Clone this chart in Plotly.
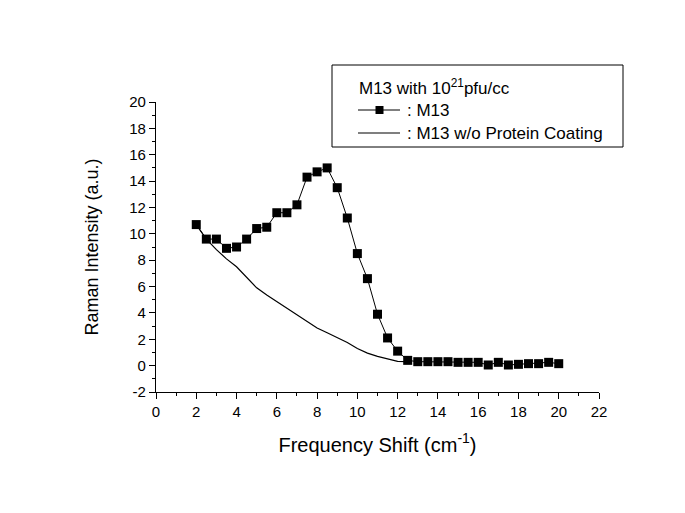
import plotly.graph_objects as go

x_m13 = [2, 2.5, 3, 3.5, 4, 4.5, 5, 5.5, 6, 6.5, 7, 7.5, 8, 8.5, 9, 9.5, 10, 10.5, 11, 11.5,
         12, 12.5, 13, 13.5, 14, 14.5, 15, 15.5, 16, 16.5, 17, 17.5, 18, 18.5, 19, 19.5, 20]
y_m13 = [10.7, 9.6, 9.6, 8.9, 9.0, 9.6, 10.4, 10.5, 11.6, 11.6, 12.2, 14.3, 14.7, 15.0, 13.5, 11.2,
         8.5, 6.6, 3.9, 2.1, 1.1, 0.4, 0.3, 0.3, 0.3, 0.3, 0.25, 0.25, 0.25, 0.05, 0.25, 0.05,
         0.1, 0.15, 0.15, 0.25, 0.15]

x_bare = [2, 2.5, 3, 3.5, 4, 4.5, 5, 5.5, 6, 6.5, 7, 7.5, 8, 8.5, 9, 9.5, 10, 10.5, 11, 11.5, 12, 12.5]
y_bare = [10.7, 9.6, 8.8, 8.1, 7.5, 6.7, 5.9, 5.35, 4.85, 4.35, 3.87, 3.35, 2.85, 2.5, 2.15, 1.75,
          1.3, 0.95, 0.7, 0.5, 0.33, 0.3]

x_ticks = list(range(0, 23, 2))
y_ticks = list(range(-2, 21, 2))
x_ticklabels = [str(v) for v in x_ticks]
y_ticklabels = [str(v) for v in y_ticks]

legend_title = "M13 with 10<sup>21</sup>pfu/cc"
legend_names = [": M13", ": M13 w/o Protein Coating"]

FONT = "Liberation Sans, Arial"
W, H = 685, 513
OFF = 8  # page body margin offset
# target plot-area edges in screenshot pixels
PL, PR, PT, PB = 156, 599, 102, 392
ML, MT = PL - OFF, PT - OFF
MR, MB = W - (PR - OFF), H - (PB - OFF)
PW, PH = PR - PL, PB - PT


def px(xp):
    return (xp - PL) / PW


def py(yp):
    return (PB - yp) / PH


fig = go.Figure()
fig.add_trace(go.Scatter(x=x_m13, y=y_m13, mode="lines+markers", name=legend_names[0],
                         line=dict(color="black", width=1), showlegend=False,
                         marker=dict(symbol="square", size=9, color="black")))
fig.add_trace(go.Scatter(x=x_bare, y=y_bare, mode="lines", name=legend_names[1],
                         line=dict(color="black", width=1.2), showlegend=False))

axis_common = dict(showline=True, linecolor="black", linewidth=1.2, ticks="outside",
                   ticklen=6, tickwidth=1.2, tickcolor="black", showgrid=False, zeroline=False,
                   mirror=False, automargin=False,
                   tickfont=dict(family=FONT, size=15, color="black"))

fig.update_xaxes(range=[0, 22], tickvals=x_ticks, ticktext=x_ticklabels,
                 minor=dict(ticks="outside", ticklen=3, tickcolor="black", dtick=1, tick0=0, showgrid=False),
                 title=dict(text="Frequency Shift (cm<sup>-1</sup>)", font=dict(family=FONT, size=20, color="black"), standoff=18),
                 **axis_common)
fig.update_yaxes(range=[-2, 20], tickvals=y_ticks, ticktext=y_ticklabels,
                 minor=dict(ticks="outside", ticklen=3, tickcolor="black", dtick=1, tick0=0, showgrid=False),
                 title=dict(text="Raman Intensity (a.u.)", font=dict(family=FONT, size=18, color="black"), standoff=25),
                 **axis_common)

# manual legend box
shapes = [
    dict(type="rect", xref="paper", yref="paper", x0=px(332), x1=px(623), y0=py(65), y1=py(147),
         line=dict(color="black", width=1), fillcolor="white", layer="above"),
    dict(type="line", xref="paper", yref="paper", x0=px(358), x1=px(400), y0=py(110), y1=py(110),
         line=dict(color="black", width=1), layer="above"),
    dict(type="rect", xref="paper", yref="paper", x0=px(375.5), x1=px(383.5), y0=py(106), y1=py(114),
         line=dict(color="black", width=0), fillcolor="black", layer="above"),
    dict(type="line", xref="paper", yref="paper", x0=px(358), x1=px(400), y0=py(133), y1=py(133),
         line=dict(color="black", width=1.2), layer="above"),
]
annotations = [
    dict(text=legend_title, xref="paper", yref="paper", x=px(357), y=py(87), xanchor="left", yanchor="middle",
         showarrow=False, font=dict(family=FONT, size=17, color="black")),
    dict(text=legend_names[0], xref="paper", yref="paper", x=px(405), y=py(110), xanchor="left", yanchor="middle",
         showarrow=False, font=dict(family=FONT, size=17, color="black")),
    dict(text=legend_names[1], xref="paper", yref="paper", x=px(405), y=py(133), xanchor="left", yanchor="middle",
         showarrow=False, font=dict(family=FONT, size=17, color="black")),
]

fig.update_layout(
    width=W, height=H,
    margin=dict(l=ML, r=MR, t=MT, b=MB),
    plot_bgcolor="white", paper_bgcolor="white",
    font=dict(family=FONT, color="black"),
    shapes=shapes, annotations=annotations, showlegend=False,
)

fig.write_html("out.html")
